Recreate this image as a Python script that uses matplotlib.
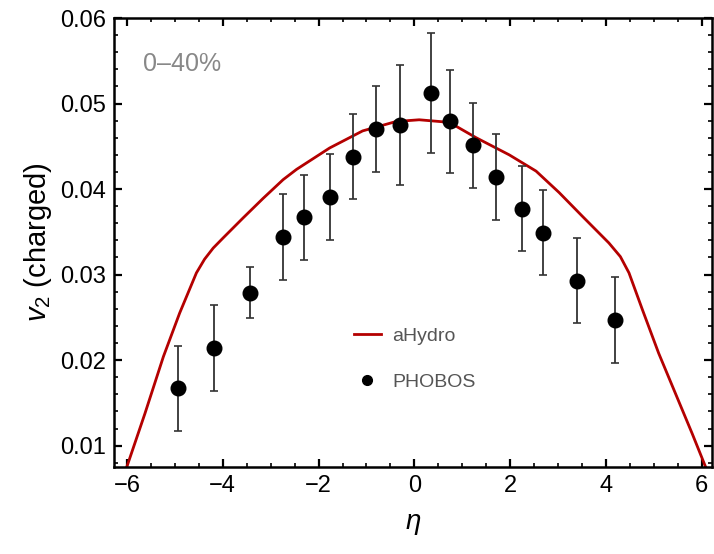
import numpy as np
import matplotlib
matplotlib.use("Agg")
import matplotlib.pyplot as plt
from matplotlib.lines import Line2D
from matplotlib.ticker import MultipleLocator, FormatStrFormatter

plt.rcParams['font.family'] = ['Liberation Sans', 'DejaVu Sans']
plt.rcParams['mathtext.fontset'] = 'custom'
plt.rcParams['mathtext.rm'] = 'Liberation Sans'
plt.rcParams['mathtext.it'] = 'Liberation Sans:italic'

# aHydro curve
eta_hydro = [-6.08, -6.01, -5.625, -5.24, -4.90, -4.55, -4.38, -4.20, -3.99, -3.58, -3.16,
             -2.74, -2.46, -1.77, -1.08, -0.38, 0.10, 0.73, 1.29, 1.98, 2.54,
             3.02, 3.51, 4.06, 4.30, 4.48, 4.76, 5.10, 5.45, 5.80, 6.08, 6.14]
v2_hydro = [0.0069, 0.0074, 0.01375, 0.0204, 0.0255, 0.0302, 0.0318, 0.0331, 0.0343, 0.0366, 0.0389,
            0.0411, 0.0423, 0.0448, 0.0468, 0.0479, 0.0481, 0.0478, 0.0460, 0.0440, 0.0421,
            0.0396, 0.0368, 0.0337, 0.0321, 0.0302, 0.0259, 0.0208, 0.0161, 0.0114, 0.0075, 0.0066]

# PHOBOS data
eta_phobos = [-4.93, -4.18, -3.43, -2.74, -2.30, -1.76, -1.28, -0.80, -0.31,
              0.35, 0.74, 1.23, 1.71, 2.24, 2.68, 3.39, 4.19]
v2_phobos = [0.0167, 0.0214, 0.0279, 0.0344, 0.0367, 0.0391, 0.0438, 0.0470, 0.0475,
             0.0512, 0.0479, 0.0451, 0.0414, 0.0377, 0.0349, 0.0293, 0.0247]
v2_err = [0.005, 0.005, 0.003, 0.005, 0.005, 0.005, 0.005, 0.005, 0.007,
          0.007, 0.006, 0.005, 0.005, 0.005, 0.005, 0.005, 0.005]

fig = plt.figure(figsize=(7.14, 5.54), dpi=100)
ax = fig.add_axes([0.1597, 0.157, 0.8373, 0.8105])

ax.plot(eta_hydro, v2_hydro, color='#b40000', lw=2.0, zorder=2)
ax.errorbar(eta_phobos, v2_phobos, yerr=v2_err, fmt='o', color='black', ms=10.5,
            ecolor='#333333', elinewidth=1.3, capsize=3, capthick=1.2, zorder=3)

ax.set_xlim(-6.27, 6.21)
ax.set_ylim(0.0075, 0.06)
ax.xaxis.set_major_locator(MultipleLocator(2))
ax.xaxis.set_minor_locator(MultipleLocator(0.5))
ax.yaxis.set_major_locator(MultipleLocator(0.01))
ax.yaxis.set_minor_locator(MultipleLocator(0.002))
ax.yaxis.set_major_formatter(FormatStrFormatter('%.2f'))

ax.tick_params(which='both', direction='in', top=True, right=True, labelsize=17)
ax.tick_params(which='major', length=6, width=1.6, pad=6)
ax.tick_params(which='minor', length=3, width=1.2)
for s in ax.spines.values():
    s.set_linewidth(1.8)

ax.set_xlabel(r'$\eta$', fontsize=20, labelpad=10)
ax.set_ylabel(r'$v_2$ (charged)', fontsize=21, labelpad=4)

ax.text(0.048, 0.898, '0–40%', transform=ax.transAxes, color='#888888',
        fontsize=18, ha='left', va='center')

handles = [Line2D([], [], color='#b40000', lw=2.0),
           Line2D([], [], marker='o', ls='', color='black', ms=7)]
ax.legend(handles, ['aHydro', 'PHOBOS'], loc='center', bbox_to_anchor=(0.503, 0.24),
          frameon=False, fontsize=14, labelcolor='#555555', handlelength=1.4,
          labelspacing=1.45, handletextpad=0.6)

fig.savefig('out.png', dpi=100)
